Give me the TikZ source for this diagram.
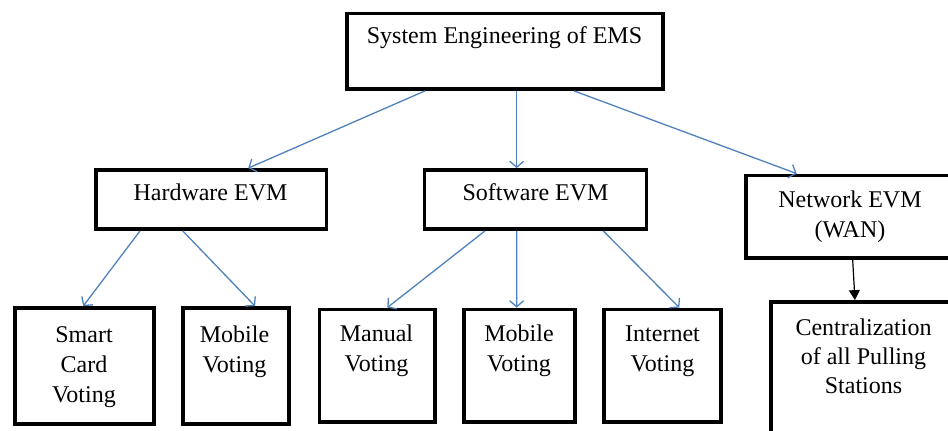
\documentclass[tikz,border=0pt]{standalone}
\usepackage{fontspec}
\setmainfont{Liberation Serif}
\usetikzlibrary{arrows.meta}
\definecolor{linkblue}{RGB}{79,129,189}

\begin{document}
\begin{tikzpicture}[x=1pt,y=-1pt,
  box/.style={draw=black,line width=3.8pt,inner sep=0pt},
  lbl/.style={font=\fontsize{24}{30}\selectfont,align=center,inner sep=0pt,anchor=base},
  link/.style={draw=linkblue,line width=1.3pt,-{Straight Barb[length=6pt,width=14pt]}}]
\useasboundingbox (0,0) rectangle (948,431);
% Draw the boxes
\node[box,minimum width=316pt,minimum height=75.5pt] (top) at (505,51.25) {};
\node[box,minimum width=230.5pt,minimum height=59pt] (hw) at (211.25,199.5) {};
\node[box,minimum width=222pt,minimum height=59pt] (sw) at (535.5,199.5) {};
\node[box,minimum width=209pt,minimum height=82.8pt] (net) at (850.5,216.9) {};
\node[box,minimum width=139.1pt,minimum height=115.8pt] (smart) at (84.25,365.9) {};
\node[box,minimum width=105.4pt,minimum height=115.8pt] (mob1) at (236,365.9) {};
\node[box,minimum width=115.2pt,minimum height=112.5pt] (manual) at (377.1,365.75) {};
\node[box,minimum width=110.7pt,minimum height=112.5pt] (mob2) at (519.35,365.75) {};
\node[box,minimum width=117pt,minimum height=112.5pt] (inet) at (662.5,365.75) {};
\node[box,minimum width=183.7pt,minimum height=143pt] (cen) at (863.15,373.5) {};
% Add the labels (base = last line)
\node[lbl] (top-t) at (504.5,43) {System Engineering of EMS};
\node[lbl] (hw-t) at (210.5,200) {Hardware EVM};
\node[lbl] (sw-t) at (535.5,200) {Software EVM};
\node[lbl] (net-t) at (850,237) {Network EVM\\(WAN)};
\node[lbl] (smart-t) at (84,402) {Smart\\Card\\Voting};
\node[lbl] (mob1-t) at (234.5,372) {Mobile\\Voting};
\node[lbl] (manual-t) at (376.5,371) {Manual\\Voting};
\node[lbl] (mob2-t) at (519,371) {Mobile\\Voting};
\node[lbl] (inet-t) at (662.5,371) {Internet\\Voting};
\node[lbl,font=\fontsize{24}{29}\selectfont] (cen-t) at (863.5,393) {Centralization\\of all Pulling\\Stations};
% Arrows
\draw[link] ([xshift=-80pt]top.south) -- ([xshift=37pt]hw.north);
\draw[link] ([xshift=11.7pt]top.south) -- ([xshift=-18.8pt]sw.north);
\draw[link] ([xshift=69pt]top.south) -- ([xshift=-53.8pt]net.north);
\draw[link] ([xshift=-71.25pt]hw.south) -- ([xshift=-1pt]smart.north);
\draw[link] ([xshift=-28.5pt]hw.south) -- ([xshift=19pt]mob1.north);
\draw[link] ([xshift=-50.5pt]sw.south) -- ([xshift=10.2pt]manual.north);
\draw[link] ([xshift=-18.8pt]sw.south) -- ([xshift=-2.7pt]mob2.north);
\draw[link] ([xshift=67.8pt]sw.south) -- ([xshift=16.8pt]inet.north);
\draw[line width=1.2pt,-{Triangle[length=10pt,width=11pt]}] ([xshift=2.2pt]net.south) -- ([xshift=-8.2pt]cen.north);
\end{tikzpicture}
\end{document}
